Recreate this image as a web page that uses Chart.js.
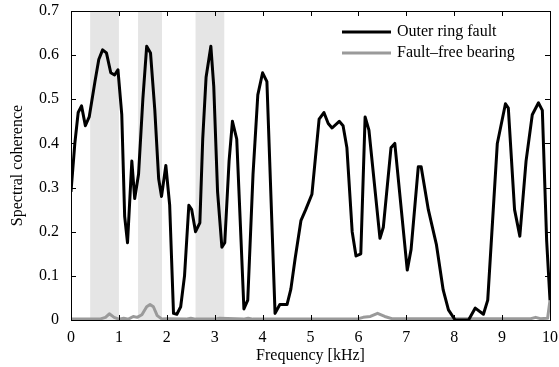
<!DOCTYPE html>
<html>
<head>
<meta charset="utf-8">
<script src="https://cdn.jsdelivr.net/npm/chart.js@4/dist/chart.umd.min.js"></script>
<style>
  html, body { margin: 0; padding: 0; background: #fff; }
  #wrap { width: 559px; height: 367px; }
</style>
</head>
<body>
<div id="wrap"><canvas id="coh" width="559" height="367"></canvas></div>
<script>
// outer ring fault, spectral coherence vs frequency (kHz)
const freqOuter = [0, 0.08, 0.15, 0.22, 0.3, 0.38, 0.5, 0.58, 0.66, 0.74, 0.83, 0.91, 0.98, 1.06, 1.12, 1.18,
  1.27, 1.33, 1.41, 1.5, 1.58, 1.66, 1.75, 1.83, 1.89, 1.98, 2.06, 2.14, 2.21, 2.29, 2.37, 2.46, 2.52,
  2.6, 2.69, 2.75, 2.82, 2.92, 2.98, 3.06, 3.15, 3.21, 3.3, 3.37, 3.46, 3.55, 3.61, 3.69, 3.8, 3.9,
  4.0, 4.09, 4.26, 4.36, 4.51, 4.59, 4.68, 4.8, 4.9, 5.03, 5.18, 5.28, 5.37, 5.45, 5.6, 5.68, 5.76,
  5.87, 5.95, 6.05, 6.14, 6.22, 6.45, 6.52, 6.68, 6.76, 7.02, 7.1, 7.25, 7.31, 7.46, 7.63, 7.77, 7.88,
  8.02, 8.3, 8.44, 8.61, 8.7, 8.9, 9.07, 9.13, 9.26, 9.37, 9.5, 9.63, 9.76, 9.84, 9.93, 10.0];
const outerRing = [0.29, 0.4, 0.47, 0.485, 0.44, 0.46, 0.54, 0.59, 0.612, 0.605, 0.56, 0.555, 0.567, 0.465, 0.235, 0.175,
  0.36, 0.275, 0.33, 0.5, 0.62, 0.605, 0.475, 0.32, 0.28, 0.35, 0.26, 0.015, 0.013, 0.03, 0.1, 0.26, 0.25,
  0.2, 0.22, 0.41, 0.55, 0.62, 0.53, 0.29, 0.165, 0.175, 0.36, 0.45, 0.41, 0.18, 0.025, 0.045, 0.33, 0.51,
  0.56, 0.54, 0.015, 0.035, 0.035, 0.07, 0.14, 0.225, 0.25, 0.285, 0.455, 0.47, 0.445, 0.435, 0.45, 0.44, 0.39,
  0.2, 0.145, 0.15, 0.46, 0.43, 0.185, 0.21, 0.39, 0.4, 0.113, 0.16, 0.347, 0.347, 0.25, 0.17, 0.068, 0.023,
  0, 0, 0.027, 0.013, 0.045, 0.4, 0.49, 0.48, 0.25, 0.19, 0.36, 0.465, 0.492, 0.475, 0.18, 0.045];

// fault-free bearing
const freqFree = [0, 0.6, 0.72, 0.8, 0.9, 1.0, 1.1, 1.2, 1.3, 1.38, 1.48, 1.58, 1.65, 1.72, 1.8, 1.9, 2.0,
  2.4, 2.5, 2.6, 3.0, 3.1, 3.6, 3.7, 3.8, 6.0, 6.1, 6.25, 6.4, 6.55, 6.7, 9.6, 9.7, 9.8, 9.95, 10.0];
const faultFree = [0.002, 0.002, 0.006, 0.014, 0.006, 0.002, 0.004, 0.002, 0.008, 0.006, 0.012, 0.03, 0.035, 0.03, 0.01, 0.002, 0.003,
  0.002, 0.004, 0.002, 0.002, 0.004, 0.002, 0.004, 0.002, 0.003, 0.006, 0.008, 0.015, 0.008, 0.003, 0.003, 0.006, 0.003, 0.004, 0.045];

// highlighted frequency bands (kHz)
const bandStart = [0.4, 1.4, 2.6];
const bandEnd = [1.0, 1.9, 3.2];

const xTicks = [0, 1, 2, 3, 4, 5, 6, 7, 8, 9, 10];
const yTicks = [0, 0.1, 0.2, 0.3, 0.4, 0.5, 0.6, 0.7];

const labels = ['Outer ring fault', 'Fault\u2013free bearing'];

const serif = '"Liberation Serif", "DejaVu Serif", serif';
const fontSize = 16;

const toXY = (xs, ys) => xs.map((x, i) => ({ x: x, y: ys[i] }));

// grey bands behind the curves
const bandPlugin = {
  id: 'bands',
  beforeDatasetsDraw(chart) {
    const { ctx, chartArea, scales } = chart;
    ctx.save();
    ctx.fillStyle = '#e5e5e5';
    bandStart.forEach((s, i) => {
      const x0 = scales.x.getPixelForValue(s);
      const x1 = scales.x.getPixelForValue(bandEnd[i]);
      ctx.fillRect(x0, chartArea.top, x1 - x0, chartArea.bottom - chartArea.top);
    });
    ctx.restore();
  }
};

// box frame with inward ticks on all four sides
const framePlugin = {
  id: 'frame',
  afterDatasetsDraw(chart) {
    const { ctx, chartArea: a, scales } = chart;
    const len = 5;
    ctx.save();
    ctx.strokeStyle = '#000';
    ctx.lineWidth = 1;
    ctx.beginPath();
    scales.x.ticks.forEach(t => {
      const x = Math.round(scales.x.getPixelForValue(t.value)) + 0.5;
      ctx.moveTo(x, a.bottom); ctx.lineTo(x, a.bottom - len);
      ctx.moveTo(x, a.top); ctx.lineTo(x, a.top + len);
    });
    scales.y.ticks.forEach(t => {
      const y = Math.round(scales.y.getPixelForValue(t.value)) + 0.5;
      ctx.moveTo(a.left, y); ctx.lineTo(a.left + len, y);
      ctx.moveTo(a.right, y); ctx.lineTo(a.right - len, y);
    });
    ctx.stroke();
    ctx.strokeRect(Math.round(a.left) + 0.5, Math.round(a.top) + 0.5,
      Math.round(a.right - a.left), Math.round(a.bottom - a.top));
    ctx.restore();
  }
};

// legend drawn in the upper right corner of the plot
const legendPlugin = {
  id: 'cornerLegend',
  afterDraw(chart) {
    const { ctx, chartArea: a } = chart;
    ctx.save();
    ctx.font = fontSize + 'px ' + serif;
    ctx.textBaseline = 'middle';
    chart.data.datasets.forEach((ds, i) => {
      const y = a.top + 21 + i * 21;
      const x0 = a.left + 271;
      ctx.strokeStyle = ds.borderColor;
      ctx.lineWidth = 3;
      ctx.beginPath();
      ctx.moveTo(x0, y);
      ctx.lineTo(x0 + 49, y);
      ctx.stroke();
      ctx.fillStyle = '#000';
      ctx.fillText(ds.label, x0 + 55, y);
    });
    ctx.restore();
  }
};

new Chart(document.getElementById('coh'), {
  type: 'line',
  data: {
    datasets: [{
      label: labels[0],
      data: toXY(freqOuter, outerRing),
      borderColor: '#000000',
      borderWidth: 3,
      pointRadius: 0,
      tension: 0,
      borderJoinStyle: 'round'
    }, {
      label: labels[1],
      data: toXY(freqFree, faultFree),
      borderColor: '#9a9a9a',
      borderWidth: 3,
      pointRadius: 0,
      tension: 0,
      borderJoinStyle: 'round'
    }]
  },
  options: {
    responsive: false,
    animation: false,
    devicePixelRatio: 1,
    layout: { padding: { left: 0, right: 9, top: 11, bottom: 0 } },
    plugins: {
      legend: { display: false },
      tooltip: { enabled: false }
    },
    scales: {
      x: {
        type: 'linear',
        min: 0,
        max: 10,
        afterFit: s => { s.height = 47; s.paddingLeft = 0; s.paddingRight = 0; },
        afterBuildTicks: s => { s.ticks = xTicks.map(v => ({ value: v })); },
        grid: { display: false, drawTicks: false },
        border: { display: false },
        ticks: { color: '#000', padding: 8, maxRotation: 0, font: { family: serif, size: fontSize } },
        title: { display: true, text: 'Frequency [kHz]', color: '#000', padding: { top: 0, bottom: 2 }, font: { family: serif, size: fontSize } }
      },
      y: {
        min: 0,
        max: 0.7,
        afterFit: s => { s.width = 71; s.paddingTop = 0; s.paddingBottom = 0; },
        afterBuildTicks: s => { s.ticks = yTicks.map(v => ({ value: v })); },
        grid: { display: false, drawTicks: false },
        border: { display: false },
        ticks: {
          color: '#000',
          padding: 12,
          font: { family: serif, size: fontSize },
          callback: v => String(Number(v.toFixed(1)))
        },
        title: { display: true, text: 'Spectral coherence', color: '#000', padding: { top: 8, bottom: 0 }, font: { family: serif, size: fontSize } }
      }
    }
  },
  plugins: [bandPlugin, framePlugin, legendPlugin]
});
</script>
</body>
</html>
